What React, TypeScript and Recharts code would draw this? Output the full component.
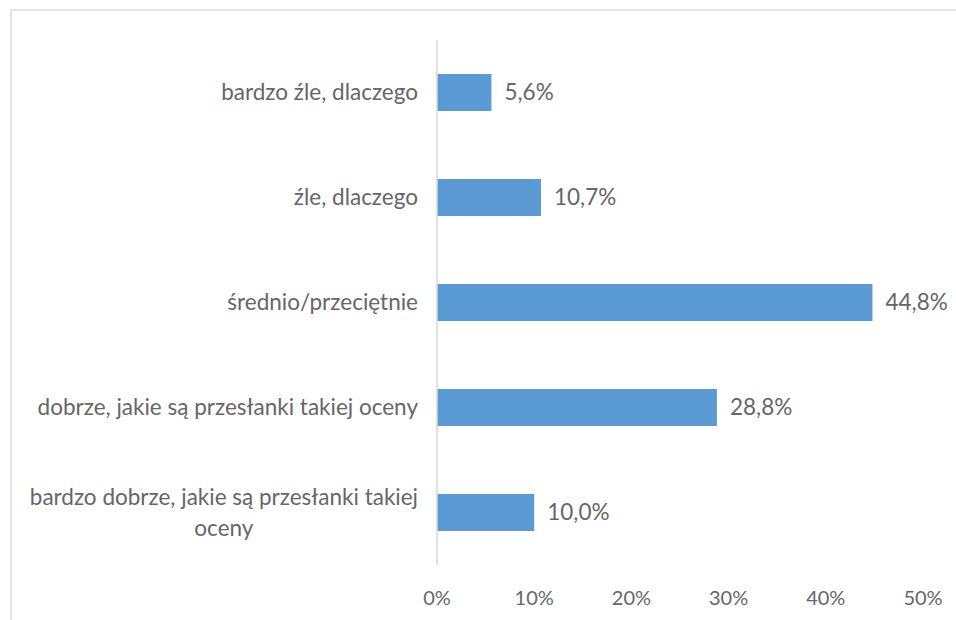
import { BarChart, Bar, XAxis, YAxis, LabelList } from 'recharts';

// kategorie (od góry) i wartości w %
const categories = [
  'bardzo źle, dlaczego',
  'źle, dlaczego',
  'średnio/przeciętnie',
  'dobrze, jakie są przesłanki takiej oceny',
  'bardzo dobrze, jakie są przesłanki takiej\noceny',
];
const values = [5.6, 10.7, 44.8, 28.8, 10.0];
const xTicks = [0, 10, 20, 30, 40, 50];

const data = categories.map((name, i) => ({ name, value: values[i] }));

const FONT = 'Lato, "Open Sans", sans-serif';
const FS = 22.5; // etykiety kategorii i wartości
const FS_TICK = 20;
const TXT = '#666666';

let ctx: CanvasRenderingContext2D | null = null;
function textWidth(s: string) {
  if (!ctx) ctx = document.createElement('canvas').getContext('2d');
  if (!ctx) return s.length * FS * 0.48;
  ctx.font = `${FS}px ${FONT}`;
  return ctx.measureText(s).width;
}

// etykieta osi Y, wieloliniowa wyśrodkowana w bloku wyrównanym do prawej
function CatTick(props: any) {
  const { x, y, payload } = props;
  const lines = String(payload.value).split('\n');
  const lh = 31;
  if (lines.length === 1) {
    return (
      <text x={x} y={y} dy="0.35em" textAnchor="end" fontSize={FS} fill={TXT} fontFamily={FONT}>
        {lines[0]}
      </text>
    );
  }
  const w = Math.max(...lines.map(textWidth));
  const cx = x - w / 2;
  const y0 = y - ((lines.length - 1) * lh) / 2;
  return (
    <text textAnchor="middle" fontSize={FS} fill={TXT} fontFamily={FONT}>
      {lines.map((l, i) => (
        <tspan key={i} x={cx} y={y0 + i * lh} dy="0.35em">
          {l}
        </tspan>
      ))}
    </text>
  );
}

const fmt = (v: any) => Number(v).toFixed(1).replace('.', ',') + '%';

export default function App() {
  return (
    <div style={{ position: 'absolute', left: 0, top: 0, width: 956, height: 620, background: '#fff' }}>
      <div
        style={{
          position: 'absolute',
          left: 10,
          top: 9,
          width: 946,
          height: 611,
          borderTop: '2px solid #e4e4e4',
          borderLeft: '2px solid #e4e4e4',
        }}
      />
      <BarChart
        width={956}
        height={620}
        data={data}
        layout="vertical"
        margin={{ top: 40, right: 33, bottom: 0, left: 0 }}
        style={{ position: 'absolute', left: 0, top: 0 }}
      >
        <XAxis
          type="number"
          domain={[0, 50]}
          ticks={xTicks}
          interval={0}
          tickFormatter={(v: number) => `${v}%`}
          axisLine={false}
          tickLine={false}
          tickSize={0}
          tickMargin={26}
          height={55}
          tick={{ fontSize: FS_TICK, fill: TXT, fontFamily: FONT }}
        />
        <YAxis
          type="category"
          dataKey="name"
          width={437}
          axisLine={{ stroke: '#d9d9d9', strokeWidth: 1.5 }}
          tickLine={false}
          tickSize={0}
          tickMargin={19}
          interval={0}
          tick={<CatTick />}
        />
        <Bar dataKey="value" fill="#5b9bd5" barSize={37} isAnimationActive={false}>
          <LabelList
            dataKey="value"
            position="right"
            offset={13}
            formatter={fmt}
            style={{ fontSize: FS, fill: TXT, fontFamily: FONT }}
          />
        </Bar>
      </BarChart>
    </div>
  );
}
